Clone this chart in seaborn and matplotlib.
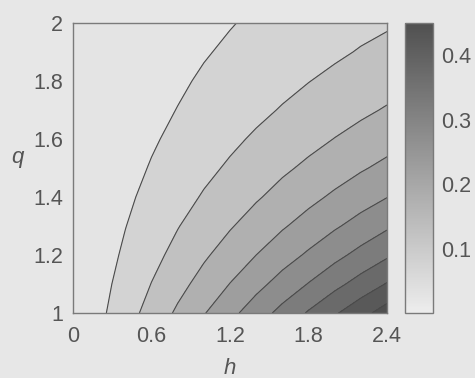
import numpy as np
import matplotlib
matplotlib.use("Agg")
import matplotlib.pyplot as plt
import seaborn as sns

# ---- data ----
h_vals = [0.0, 0.2, 0.4, 0.6, 0.8, 1.0, 1.2, 1.4, 1.6, 1.8, 2.0, 2.2, 2.4]
q_vals = [1.0, 1.1, 1.2, 1.3, 1.4, 1.5, 1.6, 1.7, 1.8, 1.9, 2.0]
z_q10 = [0, 0.039, 0.079, 0.118, 0.158, 0.197, 0.236, 0.276, 0.315, 0.355, 0.394, 0.433, 0.473]
z_q11 = [0, 0.034, 0.067, 0.101, 0.134, 0.168, 0.201, 0.235, 0.269, 0.302, 0.336, 0.369, 0.403]
z_q12 = [0, 0.029, 0.057, 0.086, 0.114, 0.143, 0.172, 0.200, 0.229, 0.257, 0.286, 0.315, 0.343]
z_q13 = [0, 0.024, 0.049, 0.073, 0.098, 0.122, 0.146, 0.171, 0.195, 0.219, 0.244, 0.268, 0.293]
z_q14 = [0, 0.021, 0.042, 0.062, 0.083, 0.104, 0.125, 0.145, 0.166, 0.187, 0.208, 0.229, 0.249]
z_q15 = [0, 0.018, 0.035, 0.053, 0.071, 0.089, 0.106, 0.124, 0.142, 0.159, 0.177, 0.195, 0.212]
z_q16 = [0, 0.015, 0.030, 0.045, 0.060, 0.075, 0.091, 0.106, 0.121, 0.136, 0.151, 0.166, 0.181]
z_q17 = [0, 0.013, 0.026, 0.039, 0.051, 0.064, 0.077, 0.090, 0.103, 0.116, 0.129, 0.141, 0.154]
z_q18 = [0, 0.011, 0.022, 0.033, 0.044, 0.055, 0.066, 0.077, 0.088, 0.099, 0.110, 0.121, 0.131]
z_q19 = [0, 0.009, 0.019, 0.028, 0.037, 0.047, 0.056, 0.065, 0.075, 0.084, 0.093, 0.103, 0.112]
z_q20 = [0, 0.008, 0.016, 0.024, 0.032, 0.040, 0.048, 0.056, 0.064, 0.072, 0.080, 0.088, 0.095]
levels = [0.0, 0.05, 0.10, 0.15, 0.20, 0.25, 0.30, 0.35, 0.40, 0.45, 0.50]
x_ticks = [0, 0.6, 1.2, 1.8, 2.4]
x_ticklabels = ["0", "0.6", "1.2", "1.8", "2.4"]
y_ticks = [1, 1.2, 1.4, 1.6, 1.8, 2]
y_ticklabels = ["1", "1.2", "1.4", "1.6", "1.8", "2"]
cb_ticks = [0.1, 0.2, 0.3, 0.4]
cb_ticklabels = ["0.1", "0.2", "0.3", "0.4"]
cb_range = [0.0, 0.45]

Z = np.array([z_q10, z_q11, z_q12, z_q13, z_q14, z_q15, z_q16, z_q17,
              z_q18, z_q19, z_q20])

sns.set_style("white")
plt.rcParams["font.family"] = ["Liberation Sans", "DejaVu Sans"]

txt = "#555555"
bg = "#e7e7e7"
cmap = sns.blend_palette(["#ededed", "#505050"], as_cmap=True)
norm = matplotlib.colors.Normalize(vmin=cb_range[0], vmax=cb_range[1])

fig = plt.figure(figsize=(4.75, 3.78), dpi=100, facecolor=bg)
ax = fig.add_axes([73 / 475, 1 - 313 / 378, 314 / 475, 290 / 378])
cax = fig.add_axes([405 / 475, 1 - 313 / 378, 28 / 475, 290 / 378])

H, Q = np.meshgrid(h_vals, q_vals)
ax.contourf(H, Q, Z, levels=levels, cmap=cmap, norm=norm)
ax.contour(H, Q, Z, levels=levels[1:-1], colors="#4a4a4a", linewidths=0.8)

ax.set_xlim(0, 2.4)
ax.set_ylim(1, 2)
ax.set_xticks(x_ticks)
ax.set_xticklabels(x_ticklabels)
ax.set_yticks(y_ticks)
ax.set_yticklabels(y_ticklabels)
ax.tick_params(axis="both", length=0, labelsize=15.5, labelcolor=txt)
ax.tick_params(axis="x", pad=9)
ax.tick_params(axis="y", pad=7)
for s in ax.spines.values():
    s.set_color("#7a7a7a")
    s.set_linewidth(1.0)

ax.set_xlabel("h", fontsize=16, style="italic", color=txt, va="center")
ax.xaxis.set_label_coords(0.5, -0.19)
ax.set_ylabel("q", fontsize=16, style="italic", color=txt, rotation=0,
              va="center", ha="center")
ax.yaxis.set_label_coords(-0.178, 0.535)

sm = matplotlib.cm.ScalarMappable(norm=norm, cmap=cmap)
cb = fig.colorbar(sm, cax=cax)
cb.set_ticks(cb_ticks)
cb.set_ticklabels(cb_ticklabels)
cb.outline.set_edgecolor("#7a7a7a")
cb.outline.set_linewidth(1.0)
cax.tick_params(axis="y", direction="in", length=3, color="#777777",
                left=True, right=True, labelsize=15.5, labelcolor=txt, pad=6)

fig.savefig("out.png", dpi=100, facecolor=bg)
